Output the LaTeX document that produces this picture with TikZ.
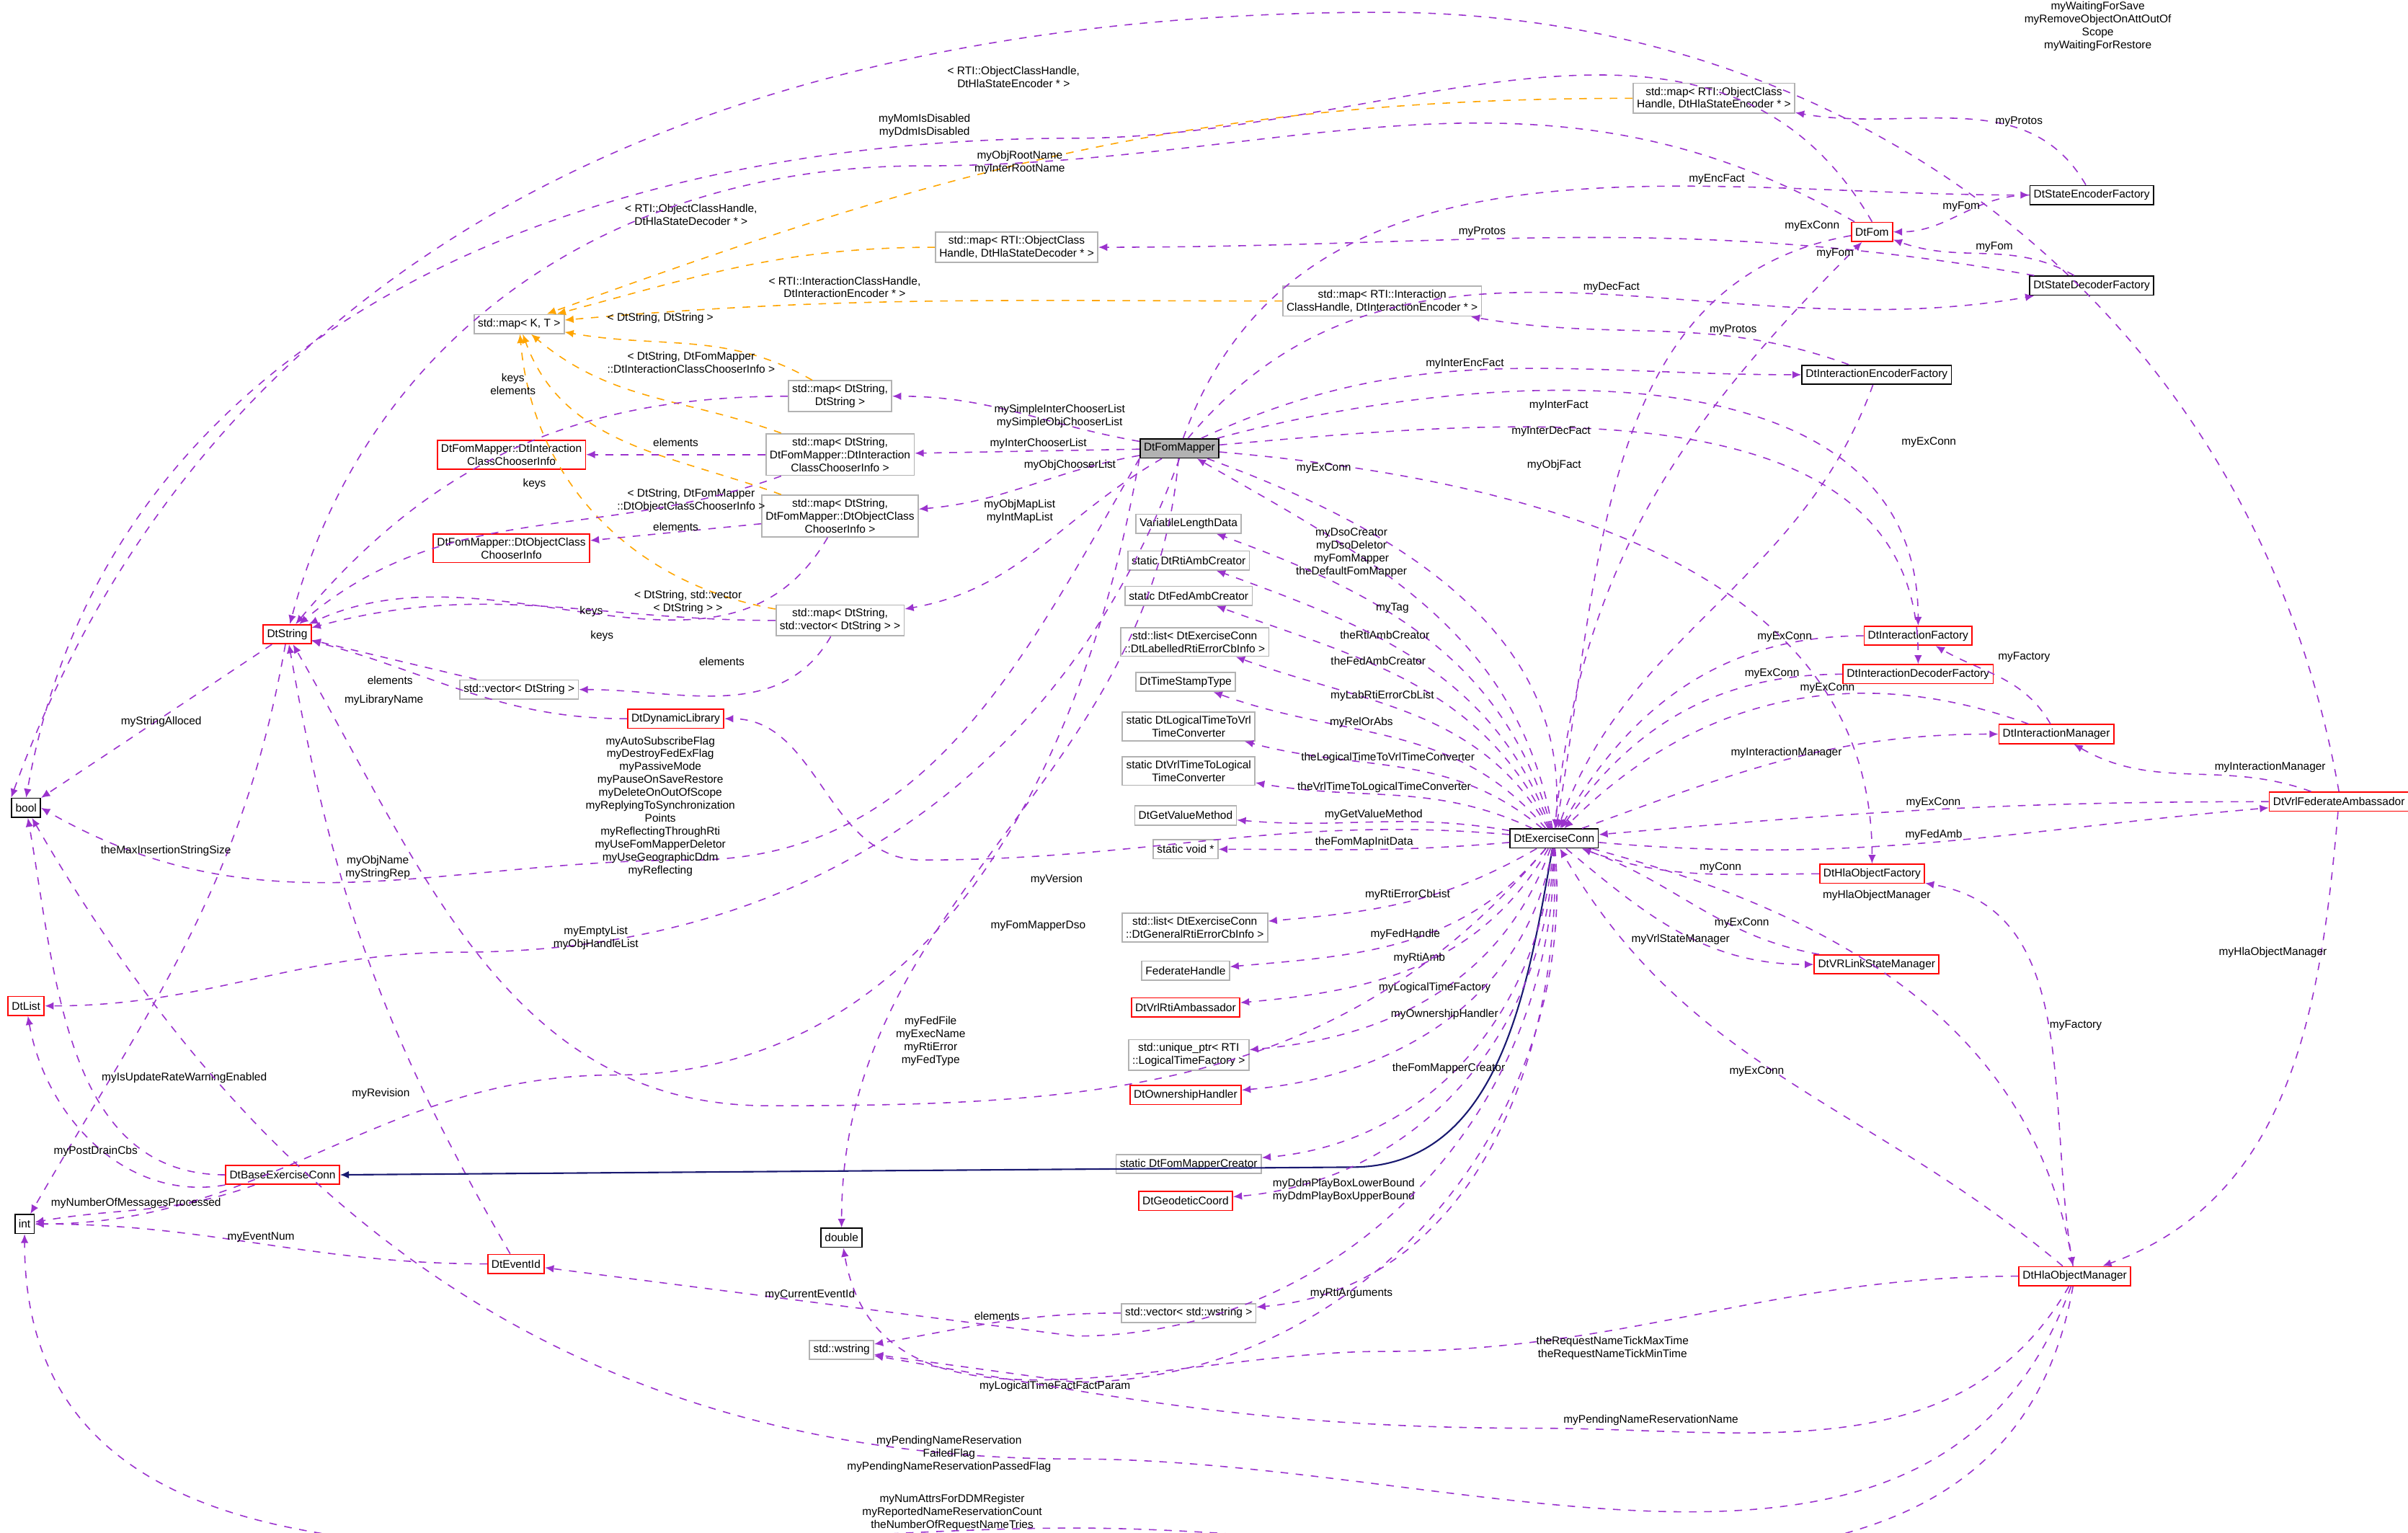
\documentclass[tikz,border=0pt]{standalone}
\usepackage{fontspec}
\setmainfont{Liberation Sans}
\usetikzlibrary{arrows.meta}
\definecolor{pur}{HTML}{9A32CD}
\definecolor{org}{HTML}{FFA500}
\definecolor{nav}{HTML}{191970}
\begin{document}
\begin{tikzpicture}[x=0.0213cm,y=-0.0213cm,
 every node/.style={font=\fontsize{4.4}{5.1}\selectfont},
 box/.style={draw,line width=0.5pt,inner sep=1.5pt,minimum height=7.5pt,align=center,fill=white},
 bb/.style={box,draw=black},
 rb/.style={box,draw=red},
 gb/.style={box,draw=gray!60},
 lab/.style={align=center,inner sep=0.5pt},
 e/.style={draw=pur,dashed,line width=0.45pt,-{Latex[length=3.5pt,width=3pt]}},
 o/.style={draw=org,dashed,line width=0.45pt,-{Latex[length=3.5pt,width=3pt]}},
 inh/.style={draw=nav,line width=0.6pt,-{Latex[length=3.5pt,width=3pt]}}]
\useasboundingbox (0,0) rectangle (1568,998);
% nodes
\node[bb] (bool) at (17,526) {bool};
\node[bb] (int) at (16,797) {int};
\node[rb] (list) at (17,655) {DtList};
\node[rb] (str) at (187,413) {DtString};
\node[gb] (mapkt) at (338,211) {std::map< K, T >};
\node[rb] (icci) at (333,296) {DtFomMapper::DtInteraction\\ClassChooserInfo};
\node[rb] (occi) at (333,357) {DtFomMapper::DtObjectClass\\ChooserInfo};
\node[gb] (vecs) at (338,449) {std::vector< DtString >};
\node[rb] (dyn) at (440,468) {DtDynamicLibrary};
\node[gb] (mapss) at (547,258) {std::map< DtString,\\DtString >};
\node[gb] (mapic) at (547,296) {std::map< DtString,\\DtFomMapper::DtInteraction\\ClassChooserInfo >};
\node[gb] (mapoc) at (547,336) {std::map< DtString,\\DtFomMapper::DtObjectClass\\ChooserInfo >};
\node[gb] (mapsv) at (547,404) {std::map< DtString,\\std::vector< DtString > >};
\node[gb] (mapdec) at (662,161) {std::map< RTI::ObjectClass\\Handle, DtHlaStateDecoder * >};
\node[gb] (mapie) at (900,196) {std::map< RTI::Interaction\\ClassHandle, DtInteractionEncoder * >};
\node[gb] (mapenc) at (1116,64) {std::map< RTI::ObjectClass\\Handle, DtHlaStateEncoder * >};
\node[bb,fill=gray!60] (fm) at (768,292) {DtFomMapper};
\node[bb] (sef) at (1362,127) {DtStateEncoderFactory};
\node[rb] (fom) at (1219,151) {DtFom};
\node[bb] (sdf) at (1362,186) {DtStateDecoderFactory};
\node[bb] (ief) at (1222,244) {DtInteractionEncoderFactory};
\node[rb] (if) at (1249,414) {DtInteractionFactory};
\node[rb] (idf) at (1249,439) {DtInteractionDecoderFactory};
\node[rb] (im) at (1339,478) {DtInteractionManager};
\node[rb] (vfa) at (1523,522) {DtVrlFederateAmbassador};
\node[rb] (hof) at (1219,569) {DtHlaObjectFactory};
\node[rb] (vsm) at (1222,628) {DtVRLinkStateManager};
\node[rb] (hom) at (1351,831) {DtHlaObjectManager};
\node[bb] (ec) at (1012,546) {DtExerciseConn};
\node[gb] (vld) at (774,341) {VariableLengthData};
\node[gb] (rac) at (774,365) {static DtRtiAmbCreator};
\node[gb] (fac) at (774,388) {static DtFedAmbCreator};
\node[gb] (lrl) at (778,418) {std::list< DtExerciseConn\\::DtLabelledRtiErrorCbInfo >};
\node[gb] (tst) at (772,444) {DtTimeStampType};
\node[gb] (ltv) at (774,473) {static DtLogicalTimeToVrl\\TimeConverter};
\node[gb] (vtl) at (774,502) {static DtVrlTimeToLogical\\TimeConverter};
\node[gb] (gvm) at (772,531) {DtGetValueMethod};
\node[gb] (sv) at (772,553) {static void *};
\node[gb] (grl) at (778,604) {std::list< DtExerciseConn\\::DtGeneralRtiErrorCbInfo >};
\node[gb] (fh) at (772,632) {FederateHandle};
\node[rb] (vra) at (772,656) {DtVrlRtiAmbassador};
\node[gb] (up) at (774,687) {std::unique\_ptr< RTI\\::LogicalTimeFactory >};
\node[rb] (oh) at (772,713) {DtOwnershipHandler};
\node[gb] (fmc) at (774,758) {static DtFomMapperCreator};
\node[rb] (gc) at (772,782) {DtGeodeticCoord};
\node[gb] (vw) at (774,855) {std::vector< std::wstring >};
\node[bb] (dbl) at (548,806) {double};
\node[gb] (ws) at (548,879) {std::wstring};
\node[rb] (bec) at (184,765) {DtBaseExerciseConn};
\node[rb] (eid) at (336,823) {DtEventId};
% template edges
\draw[o] (mapenc) to[out=180,in=20] (mapkt);
\draw[o] (mapdec) to[out=180,in=15] (mapkt);
\draw[o] (mapie) to[out=180,in=5] (mapkt);
\draw[o] (mapss) to[out=150,in=-10] (mapkt);
\draw[o] (mapic) to[out=160,in=-40] (mapkt);
\draw[o] (mapoc) to[out=160,in=-70] (mapkt);
\draw[o] (mapsv) to[out=170,in=-85] (mapkt);
\node[lab] at (660,50) {< RTI::ObjectClassHandle,\\DtHlaStateEncoder * >};
\node[lab] at (450,140) {< RTI::ObjectClassHandle,\\DtHlaStateDecoder * >};
\node[lab] at (550,187) {< RTI::InteractionClassHandle,\\DtInteractionEncoder * >};
\node[lab] at (430,207) {< DtString, DtString >};
\node[lab] at (450,236) {< DtString, DtFomMapper\\::DtInteractionClassChooserInfo >};
\node[lab] at (450,326) {< DtString, DtFomMapper\\::DtObjectClassChooserInfo >};
\node[lab] at (448,392) {< DtString, std::vector\\< DtString > >};
% purple edges
\draw[e] (sef) to[out=120,in=-10] node[lab,pos=0.3,above]{myProtos} (mapenc);
\draw[e] (sef) to[out=180,in=0] node[lab,above]{myFom} (fom);
\draw[e] (sdf) to[out=150,in=-20] node[lab,pos=0.45,above]{myFom} (fom);
\draw[e] (sdf) to[out=170,in=0] node[lab,pos=0.6,above]{myProtos} (mapdec);
\draw[e] (ief) to[out=160,in=-10] node[lab,pos=0.3,above]{myProtos} (mapie);
\draw[e] (ief) to[out=-110,in=70] (ec);
\draw[e] (fom) to[out=-170,in=80] (ec);
\draw[e] (ec) to[out=85,in=-135] (fom);
\node[lab] at (1180,147) {myExConn};
\node[lab] at (1195,165) {myFom};
\node[lab] at (1256,288) {myExConn};
\draw[e] (fom.north) to[out=120,in=0] (700,90) to[out=180,in=80] (bool.north);
\node[lab] at (602,82) {myMomIsDisabled\\myDdmIsDisabled};
\draw[e] (fom) to[out=150,in=0] (600,108) to[out=180,in=75] (str);
\node[lab] at (664,106) {myObjRootName\\myInterRootName};
\draw[e] (vfa.north) to[out=100,in=0] (900,8) to[out=180,in=70] (bool.north west);
\node[lab] at (1366,17) {myWaitingForSave\\myRemoveObjectOnAttOutOf\\Scope\\myWaitingForRestore};
\draw[e] (fm) to[out=70,in=180] node[lab,pos=0.7,above]{myEncFact} (sef);
\draw[e] (fm) to[out=50,in=190] node[lab,pos=0.55,above]{myDecFact} (sdf);
\draw[e] (fm) to[out=25,in=180] node[lab,pos=0.45,above]{myInterEncFact} (ief);
\draw[e] (fm) to[out=15,in=90] (if);
\node[lab] at (1015,264) {myInterFact};
\draw[e] (fm) to[out=5,in=90] (idf);
\node[lab] at (1010,281) {myInterDecFact};
\draw[e] (fm) to[out=-5,in=90] (hof);
\node[lab] at (1012,303) {myObjFact};
\draw[e] (fm) to[out=-20,in=85] (ec);
\node[lab] at (862,305) {myExConn};
\draw[e] (fm) to[out=170,in=0] (mapss);
\node[lab] at (690,271) {mySimpleInterChooserList\\mySimpleObjChooserList};
\draw[e] (fm) -- node[lab,above,pos=0.45]{myInterChooserList} (mapic);
\draw[e] (fm) to[out=-170,in=5] node[lab,pos=0.3,above]{myObjChooserList} (mapoc);
\draw[e] (fm) to[out=-150,in=10] (mapsv);
\node[lab] at (664,333) {myObjMapList\\myIntMapList};
\draw[e] (fm.south west) to[out=-120,in=0] (450,560) to[out=180,in=-30] (bool.east);
\node[lab] at (430,525) {myAutoSubscribeFlag\\myDestroyFedExFlag\\myPassiveMode\\myPauseOnSaveRestore\\myDeleteOnOutOfScope\\myReplyingToSynchronization\\Points\\myReflectingThroughRti\\myUseFomMapperDeletor\\myUseGeographicDdm\\myReflecting};
\draw[e] (fm.south) to[out=-110,in=0] (300,620) to[out=180,in=0] (list.east);
\node[lab] at (388,611) {myEmptyList\\myObjHandleList};
\draw[e] (fm) to[out=-95,in=90] (dbl);
\node[lab] at (688,573) {myVersion};
\draw[e] (fm.south west) to[out=-100,in=0] (400,700) to[out=180,in=0] (int.east);
\node[lab] at (248,712) {myRevision};
\draw[e] (mapss) to[out=180,in=50] (str);
\node[lab] at (334,250) {keys\\elements};
\draw[e] (mapic) -- (icci);
\node[lab] at (440,288) {elements};
\draw[e] (mapic) to[out=-160,in=40] (str);
\node[lab] at (348,315) {keys};
\draw[e] (mapoc) -- (occi);
\node[lab] at (440,343) {elements};
\draw[e] (mapoc) to[out=-120,in=25] (str);
\node[lab] at (385,398) {keys};
\draw[e] (mapsv) to[out=180,in=15] (str);
\node[lab] at (392,414) {keys};
\draw[e] (mapsv) to[out=-120,in=0] (vecs);
\node[lab] at (470,431) {elements};
\draw[e] (vecs) -- (str);
\node[lab] at (254,443) {elements};
\draw[e] (dyn) to[out=180,in=-15] (str);
\node[lab] at (250,456) {myLibraryName};
\draw[e] (str) -- (bool);
\node[lab] at (105,470) {myStringAlloced};
\draw[e] (str) to[out=-100,in=60] (int);
\node[lab] at (108,554) {theMaxInsertionStringSize};
\draw[e] (eid) to[out=120,in=-80] (str);
\node[lab] at (246,565) {myObjName\\myStringRep};
\draw[e] (eid) to[out=180,in=0] node[lab,above]{myEventNum} (int);
\draw[e] (bec) to[out=180,in=-80] (bool);
\node[lab] at (120,702) {myIsUpdateRateWarningEnabled};
\draw[e] (bec) to[out=-170,in=-80] node[lab,pos=0.5,below]{myPostDrainCbs} (list);
\draw[e] (bec) to[out=-160,in=10] node[lab,pos=0.55,above]{myNumberOfMessagesProcessed} (int);
\draw[inh] (ec) to[out=-100,in=0] (880,760) -- (bec.east);
% exercise conn members
\draw[e] (ec) to[out=100,in=-30] (fm);
\node[lab] at (880,360) {myDsoCreator\\myDsoDeletor\\myFomMapper\\theDefaultFomMapper};
\draw[e] (ec) to[out=105,in=-20] node[lab,pos=0.6,above]{myTag} (vld);
\draw[e] (ec) to[out=110,in=-20] node[lab,pos=0.6,above]{theRtiAmbCreator} (rac);
\draw[e] (ec) to[out=115,in=-20] node[lab,pos=0.6,above]{theFedAmbCreator} (fac);
\draw[e] (ec) to[out=120,in=-20] node[lab,pos=0.6,above]{myLabRtiErrorCbList} (lrl);
\draw[e] (ec) to[out=130,in=-20] node[lab,pos=0.6,above]{myRelOrAbs} (tst);
\draw[e] (ec) to[out=140,in=-15] node[lab,pos=0.55,above]{theLogicalTimeToVrlTimeConverter} (ltv);
\draw[e] (ec) to[out=155,in=-10] node[lab,pos=0.55,above]{theVrlTimeToLogicalTimeConverter} (vtl);
\draw[e] (ec) to[out=170,in=-5] node[lab,pos=0.5,above]{myGetValueMethod} (gvm);
\draw[e] (ec) to[out=185,in=0] node[lab,pos=0.5,above]{theFomMapInitData} (sv);
\draw[e] (ec) to[out=-150,in=5] node[lab,pos=0.5,above]{myRtiErrorCbList} (grl);
\draw[e] (ec) to[out=-130,in=5] node[lab,pos=0.5,above]{myFedHandle} (fh);
\draw[e] (ec) to[out=-120,in=5] node[lab,pos=0.5,above]{myRtiAmb} (vra);
\draw[e] (ec) to[out=-110,in=5] node[lab,pos=0.5,above]{myLogicalTimeFactory} (up);
\draw[e] (ec) to[out=-100,in=5] node[lab,pos=0.5,above]{myOwnershipHandler} (oh);
\draw[e] (ec) to[out=-95,in=5] node[lab,pos=0.55,above]{theFomMapperCreator} (fmc);
\draw[e] (ec) to[out=-92,in=5] (gc);
\node[lab] at (875,775) {myDdmPlayBoxLowerBound\\myDdmPlayBoxUpperBound};
\draw[e] (ec) to[out=-88,in=5] (vw);
\node[lab] at (880,842) {myRtiArguments};
\draw[e] (ec) to[out=-90,in=0] (700,870) -- node[lab,above]{myCurrentEventId} (eid);
\draw[e] (ec) to[out=-85,in=0] (700,900) -- node[lab,pos=0.1,below]{myLogicalTimeFactFactParam} (ws);
\draw[e] (ec) to[out=175,in=0] (600,560) to[out=180,in=0] (dyn);
\node[lab] at (676,603) {myFomMapperDso};
\draw[e] (ec) to[out=-130,in=0] (500,720) to[out=180,in=-60] (str);
\node[lab] at (606,678) {myFedFile\\myExecName\\myRtiError\\myFedType};
\draw[e] (vw) to[out=180,in=10] node[lab,above]{elements} (ws);
% right cluster
\draw[e] (ec) to[out=20,in=180] node[lab,pos=0.5,above]{myInteractionManager} (im);
\draw[e] (im) to[out=160,in=45] node[lab,pos=0.4,above]{myExConn} (ec);
\draw[e] (im) to[out=120,in=-30] (if);
\node[lab] at (1318,428) {myFactory};
\draw[e] (if) to[out=180,in=60] node[lab,pos=0.2,above]{myExConn} (ec);
\draw[e] (idf) to[out=180,in=55] node[lab,pos=0.2,above]{myExConn} (ec);
\draw[e] (vfa) to[out=160,in=-30] node[lab,pos=0.4,above right]{myInteractionManager} (im);
\draw[e] (vfa) to[out=180,in=5] node[lab,pos=0.5,above]{myExConn} (ec);
\draw[e] (ec) to[out=-5,in=185] node[lab,pos=0.5,above]{myFedAmb} (vfa);
\draw[e] (vfa) to[out=-95,in=20] (hom);
\node[lab] at (1480,620) {myHlaObjectManager};
\draw[e] (hof) to[out=180,in=-20] node[lab,pos=0.4,above]{myConn} (ec);
\draw[e] (ec) to[out=-15,in=100] (hom);
\node[lab] at (1222,583) {myHlaObjectManager};
\draw[e] (hom) to[out=100,in=-10] node[lab,pos=0.5,right]{myFactory} (hof);
\draw[e] (hom) to[out=140,in=-60] node[lab,pos=0.5,above left]{myExConn} (ec);
\draw[e] (vsm) to[out=170,in=-20] node[lab,pos=0.3,above]{myExConn} (ec);
\draw[e] (ec) to[out=-40,in=180] node[lab,pos=0.5,below]{myVrlStateManager} (vsm);
\draw[e] (hom) to[out=180,in=0] (900,880) to[out=180,in=-80] (dbl);
\node[lab] at (1050,878) {theRequestNameTickMaxTime\\theRequestNameTickMinTime};
\draw[e] (hom) to[out=-120,in=0] (1000,930) to[out=180,in=-10] (ws);
\node[lab] at (1075,925) {myPendingNameReservationName};
\draw[e] (hom) to[out=-110,in=0] (700,950) to[out=180,in=-60] (bool);
\node[lab] at (618,947) {myPendingNameReservation\\FailedFlag\\myPendingNameReservationPassedFlag};
\draw[e] (hom) to[out=-100,in=0] (700,995) to[out=180,in=-90] (int);
\node[lab] at (620,985) {myNumAttrsForDDMRegister\\myReportedNameReservationCount\\theNumberOfRequestNameTries};
\end{tikzpicture}
\end{document}
